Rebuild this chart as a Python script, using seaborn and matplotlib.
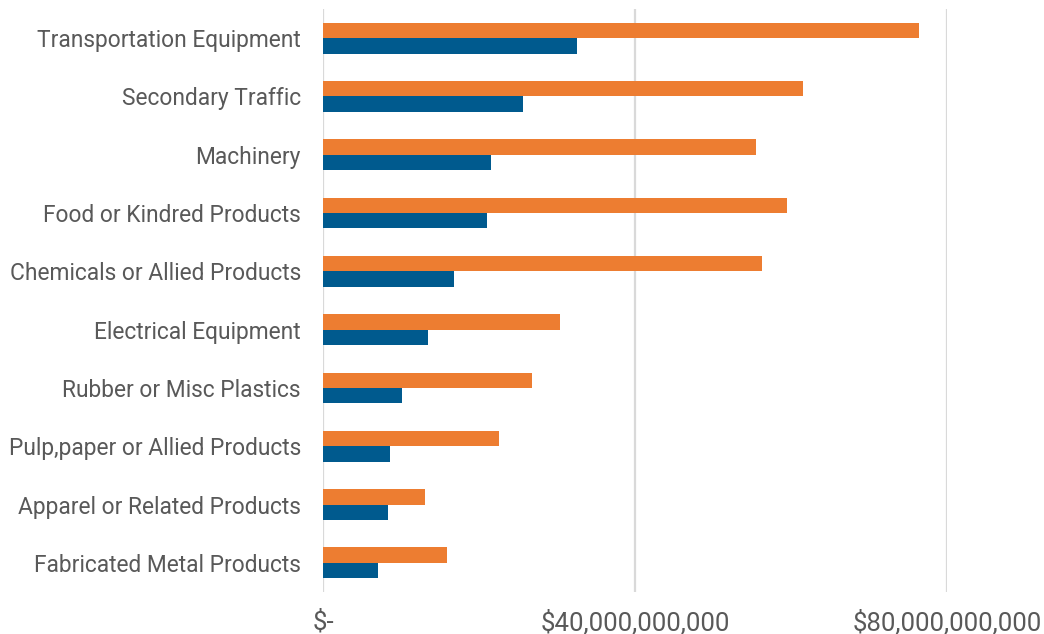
import matplotlib
matplotlib.use("Agg")
import matplotlib.pyplot as plt
import seaborn as sns
import pandas as pd

categories = [
    "Transportation Equipment",
    "Secondary Traffic",
    "Machinery",
    "Food or Kindred Products",
    "Chemicals or Allied Products",
    "Electrical Equipment",
    "Rubber or Misc Plastics",
    "Pulp,paper or Allied Products",
    "Apparel or Related Products",
    "Fabricated Metal Products",
]
# values in billions of dollars
series_a = [76.4, 61.5, 55.5, 59.5, 56.3, 30.4, 26.8, 22.6, 13.1, 15.9]
series_b = [32.6, 25.6, 21.5, 21.0, 16.8, 13.5, 10.1, 8.6, 8.3, 7.1]
series_names = ["A", "B"]
xticks = [0, 40e9, 80e9]
xtick_labels = ["$-", "$40,000,000,000", "$80,000,000,000"]

rows = []
for cat, a, b in zip(categories, series_a, series_b):
    rows.append({"category": cat, "series": series_names[0], "value": a * 1e9})
    rows.append({"category": cat, "series": series_names[1], "value": b * 1e9})
df = pd.DataFrame(rows)

sns.set_theme(style="white")
plt.rcParams["font.family"] = ["Roboto", "DejaVu Sans"]

fig = plt.figure(figsize=(10.44, 6.34), dpi=100)
ax = fig.add_axes([323 / 1044, 1 - 592 / 634, (947 - 323) / 1044, (592 - 9) / 634])

sns.barplot(
    data=df, y="category", x="value", hue="series",
    order=categories, hue_order=series_names,
    palette=["#ED7D31", "#005A8E"], saturation=1, orient="h",
    width=0.53, dodge=True, gap=0, linewidth=0, ax=ax,
)

ax.set_xlim(0, 80e9)
ax.set_ylim(len(categories) - 0.5, -0.5)
ax.set_xticks(xticks)
ax.set_xticklabels(xtick_labels)
ax.xaxis.grid(True, color="#D9D9D9", linewidth=1.6)
ax.set_axisbelow(True)
for s in ax.spines.values():
    s.set_visible(False)
ax.tick_params(axis="y", length=0, pad=16, labelsize=16.4, labelcolor="#595959")
ax.tick_params(axis="x", length=0, pad=13, labelsize=18.5, labelcolor="#595959")
ax.set_xlabel("")
ax.set_ylabel("")
leg = ax.get_legend()
if leg is not None:
    leg.remove()

fig.savefig("out.png", dpi=100)
